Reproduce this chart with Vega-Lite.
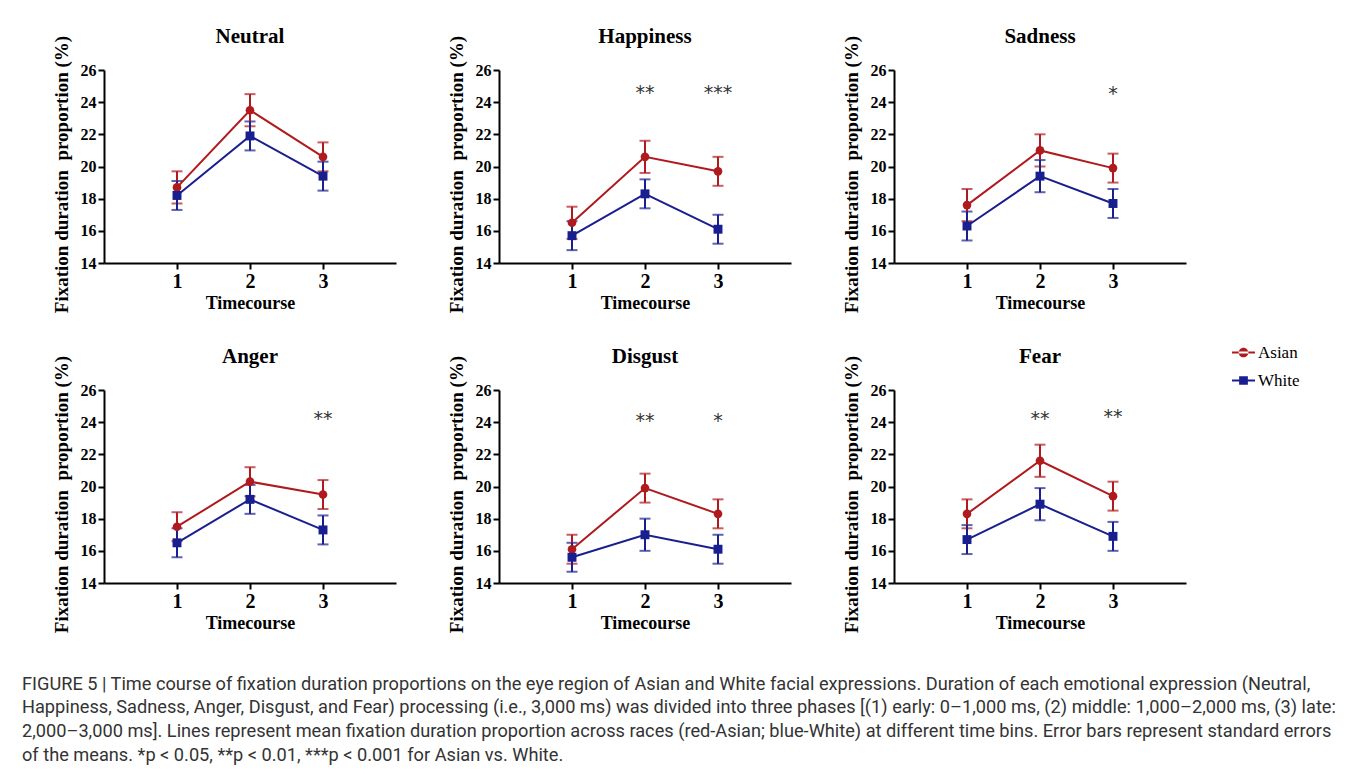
{
  "$schema": "https://vega.github.io/schema/vega-lite/v6.json",
  "padding": {"left": 22, "top": 26, "right": 5, "bottom": 5},
  "background": "white",
  "title": {
    "text": [
      "FIGURE 5 | Time course of fixation duration proportions on the eye region of Asian and White facial expressions. Duration of each emotional expression (Neutral,",
      "Happiness, Sadness, Anger, Disgust, and Fear) processing (i.e., 3,000 ms) was divided into three phases [(1) early: 0–1,000 ms, (2) middle: 1,000–2,000 ms, (3) late:",
      "2,000–3,000 ms]. Lines represent mean fixation duration proportion across races (red-Asian; blue-White) at different time bins. Error bars represent standard errors",
      "of the means. *p < 0.05, **p < 0.01, ***p < 0.001 for Asian vs. White."
    ],
    "orient": "bottom",
    "anchor": "start",
    "frame": "group",
    "dx": -82,
    "offset": 43,
    "font": "Roboto",
    "fontSize": 18.2,
    "fontWeight": "normal",
    "color": "#333333",
    "lineHeight": 23.8
  },
  "data": {
    "values": [
      {"e": "Neutral", "r": "Asian", "t": 1, "m": 18.7, "lo": 17.7, "hi": 19.7},
      {"e": "Neutral", "r": "Asian", "t": 2, "m": 23.5, "lo": 22.5, "hi": 24.5},
      {"e": "Neutral", "r": "Asian", "t": 3, "m": 20.6, "lo": 19.7, "hi": 21.5},
      {"e": "Neutral", "r": "White", "t": 1, "m": 18.2, "lo": 17.3, "hi": 19.1},
      {"e": "Neutral", "r": "White", "t": 2, "m": 21.9, "lo": 21.0, "hi": 22.8},
      {"e": "Neutral", "r": "White", "t": 3, "m": 19.4, "lo": 18.5, "hi": 20.3},
      {"e": "Happiness", "r": "Asian", "t": 1, "m": 16.5, "lo": 15.5, "hi": 17.5},
      {"e": "Happiness", "r": "Asian", "t": 2, "m": 20.6, "lo": 19.6, "hi": 21.6},
      {"e": "Happiness", "r": "Asian", "t": 3, "m": 19.7, "lo": 18.8, "hi": 20.6},
      {"e": "Happiness", "r": "White", "t": 1, "m": 15.7, "lo": 14.8, "hi": 16.6},
      {"e": "Happiness", "r": "White", "t": 2, "m": 18.3, "lo": 17.4, "hi": 19.2},
      {"e": "Happiness", "r": "White", "t": 3, "m": 16.1, "lo": 15.2, "hi": 17.0},
      {"e": "Sadness", "r": "Asian", "t": 1, "m": 17.6, "lo": 16.6, "hi": 18.6},
      {"e": "Sadness", "r": "Asian", "t": 2, "m": 21.0, "lo": 20.0, "hi": 22.0},
      {"e": "Sadness", "r": "Asian", "t": 3, "m": 19.9, "lo": 19.0, "hi": 20.8},
      {"e": "Sadness", "r": "White", "t": 1, "m": 16.3, "lo": 15.4, "hi": 17.2},
      {"e": "Sadness", "r": "White", "t": 2, "m": 19.4, "lo": 18.4, "hi": 20.4},
      {"e": "Sadness", "r": "White", "t": 3, "m": 17.7, "lo": 16.8, "hi": 18.6},
      {"e": "Anger", "r": "Asian", "t": 1, "m": 17.5, "lo": 16.6, "hi": 18.4},
      {"e": "Anger", "r": "Asian", "t": 2, "m": 20.3, "lo": 19.4, "hi": 21.2},
      {"e": "Anger", "r": "Asian", "t": 3, "m": 19.5, "lo": 18.6, "hi": 20.4},
      {"e": "Anger", "r": "White", "t": 1, "m": 16.5, "lo": 15.6, "hi": 17.4},
      {"e": "Anger", "r": "White", "t": 2, "m": 19.2, "lo": 18.3, "hi": 20.1},
      {"e": "Anger", "r": "White", "t": 3, "m": 17.3, "lo": 16.4, "hi": 18.2},
      {"e": "Disgust", "r": "Asian", "t": 1, "m": 16.1, "lo": 15.2, "hi": 17.0},
      {"e": "Disgust", "r": "Asian", "t": 2, "m": 19.9, "lo": 19.0, "hi": 20.8},
      {"e": "Disgust", "r": "Asian", "t": 3, "m": 18.3, "lo": 17.4, "hi": 19.2},
      {"e": "Disgust", "r": "White", "t": 1, "m": 15.6, "lo": 14.7, "hi": 16.5},
      {"e": "Disgust", "r": "White", "t": 2, "m": 17.0, "lo": 16.0, "hi": 18.0},
      {"e": "Disgust", "r": "White", "t": 3, "m": 16.1, "lo": 15.2, "hi": 17.0},
      {"e": "Fear", "r": "Asian", "t": 1, "m": 18.3, "lo": 17.4, "hi": 19.2},
      {"e": "Fear", "r": "Asian", "t": 2, "m": 21.6, "lo": 20.6, "hi": 22.6},
      {"e": "Fear", "r": "Asian", "t": 3, "m": 19.4, "lo": 18.5, "hi": 20.3},
      {"e": "Fear", "r": "White", "t": 1, "m": 16.7, "lo": 15.8, "hi": 17.6},
      {"e": "Fear", "r": "White", "t": 2, "m": 18.9, "lo": 17.9, "hi": 19.9},
      {"e": "Fear", "r": "White", "t": 3, "m": 16.9, "lo": 16.0, "hi": 17.8},
      {"e": "Happiness", "t": 2, "s": "**", "sy": 24.6},
      {"e": "Happiness", "t": 3, "s": "***", "sy": 24.6},
      {"e": "Sadness", "t": 3, "s": "*", "sy": 24.5},
      {"e": "Anger", "t": 3, "s": "**", "sy": 24.2},
      {"e": "Disgust", "t": 2, "s": "**", "sy": 24.1},
      {"e": "Disgust", "t": 3, "s": "*", "sy": 24.1},
      {"e": "Fear", "t": 2, "s": "**", "sy": 24.2},
      {"e": "Fear", "t": 3, "s": "**", "sy": 24.3}
    ]
  },
  "facet": {
    "field": "e",
    "type": "nominal",
    "sort": ["Neutral", "Happiness", "Sadness", "Anger", "Disgust", "Fear"],
    "header": {
      "title": null,
      "labelFont": "Liberation Serif",
      "labelFontWeight": "bold",
      "labelFontSize": 21,
      "labelColor": "black",
      "labelPadding": -12
    }
  },
  "columns": 3,
  "spacing": {"row": 33, "column": 50},
  "resolve": {"axis": {"x": "independent", "y": "independent"}},
  "spec": {
    "width": 292,
    "height": 193,
    "encoding": {
      "x": {
        "field": "t",
        "type": "quantitative",
        "scale": {"domain": [0, 4], "nice": false, "zero": false},
        "axis": {"values": [1, 2, 3], "title": "Timecourse", "labelFontSize": 20, "titleFontSize": 18, "labelPadding": 2, "titlePadding": 3, "format": "d"}
      },
      "y": {
        "field": "m",
        "type": "quantitative",
        "scale": {"domain": [14, 26], "nice": false, "zero": false},
        "axis": {"values": [14, 16, 18, 20, 22, 24, 26], "labelOverlap": false, "labelFontSize": 16, "title": "Fixation duration\u00a0 proportion (%)", "titleFontSize": 19, "titlePadding": 9, "titleY": 104}
      },
      "color": {
        "field": "r",
        "type": "nominal",
        "scale": {"domain": ["Asian", "White"], "range": ["#b01a1e", "#1a1f90"]},
        "legend": {"title": null}
      }
    },
    "layer": [
      {
        "transform": [{"filter": "false"}],
        "mark": {"type": "point", "filled": true, "opacity": 1},
        "encoding": {
          "shape": {
            "field": "r",
            "type": "nominal",
            "scale": {"domain": ["Asian", "White"], "range": [
              "M-1,-0.09H1V0.09H-1Z M-0.42,0A0.42,0.42 0 1,0 0.42,0A0.42,0.42 0 1,0 -0.42,0Z",
              "M-1,-0.09H1V0.09H-1Z M-0.38,-0.38H0.38V0.38H-0.38Z"
            ]},
            "legend": {"title": null}
          }
        }
      },
      {
        "transform": [{"filter": "datum.r != null"}],
        "mark": {"type": "errorbar", "ticks": {"size": 11, "thickness": 2}, "rule": {"strokeWidth": 2}},
        "encoding": {
          "y": {"field": "lo", "type": "quantitative"},
          "y2": {"field": "hi"}
        }
      },
      {
        "transform": [{"filter": "datum.r != null"}],
        "mark": {"type": "line", "strokeWidth": 2}
      },
      {
        "transform": [{"filter": "datum.r == 'Asian'"}],
        "mark": {"type": "circle", "opacity": 1, "size": 75}
      },
      {
        "transform": [{"filter": "datum.r == 'White'"}],
        "mark": {"type": "square", "opacity": 1, "size": 80}
      },
      {
        "transform": [{"filter": "datum.s != null"}],
        "mark": {"type": "text", "font": "DejaVu Sans", "fontSize": 19, "baseline": "middle"},
        "encoding": {
          "y": {"field": "sy", "type": "quantitative"},
          "text": {"field": "s"},
          "color": {"value": "#333333"}
        }
      }
    ]
  },
  "config": {
    "view": {"stroke": null},
    "legend": {
      "orient": "none",
      "legendX": 1128,
      "legendY": 271,
      "labelFont": "Liberation Serif",
      "labelFontSize": 17,
      "labelColor": "black",
      "symbolSize": 529,
      "rowPadding": 8,
      "labelOffset": 3,
      "symbolStrokeWidth": 0,
      "symbolOpacity": 1
    },
    "axis": {
      "grid": false,
      "labelFont": "Liberation Serif",
      "labelFontWeight": "bold",
      "labelFontSize": 16,
      "labelColor": "black",
      "domainColor": "black",
      "domainWidth": 2,
      "tickColor": "black",
      "tickWidth": 2,
      "tickSize": 6,
      "titleFont": "Liberation Serif",
      "titleFontWeight": "bold",
      "titleFontSize": 18,
      "titleColor": "black"
    }
  }
}
